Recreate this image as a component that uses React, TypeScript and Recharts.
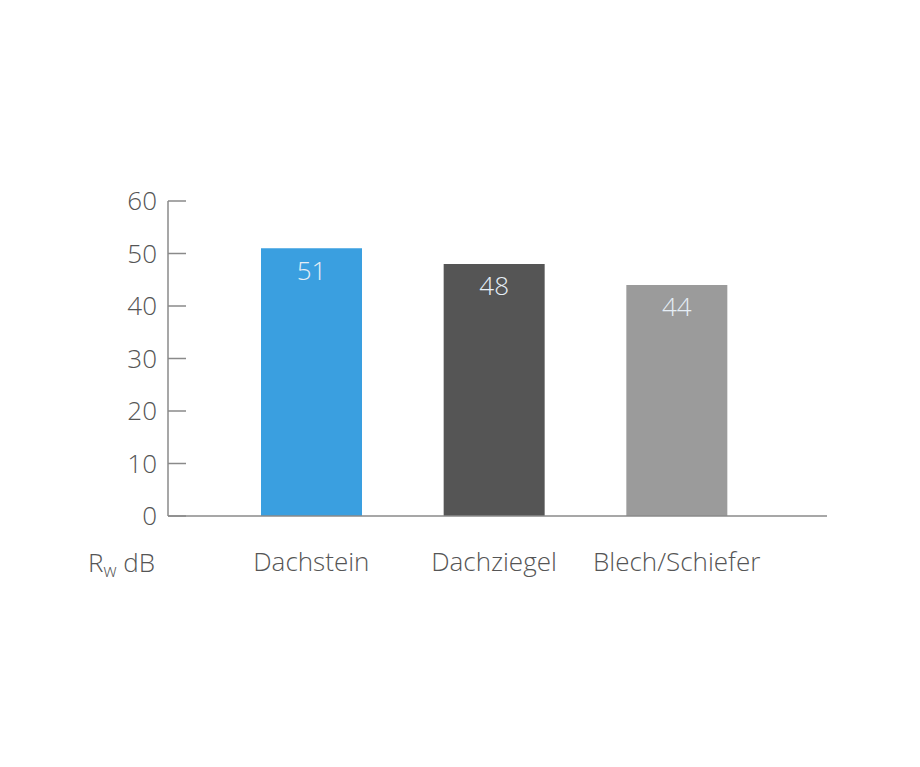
import React from "react";
import { BarChart, Bar, XAxis, YAxis, Cell, LabelList, Label } from "recharts";

const categories = ["Dachstein", "Dachziegel", "Blech/Schiefer"];
const values = [51, 48, 44];
const colors = ["#3a9fe0", "#555555", "#9b9b9b"];
const yTicks = [0, 10, 20, 30, 40, 50, 60];

const FONT = "'Open Sans', Lato, sans-serif";
const TEXT = "#555555";
const AXIS = "#8a8a8a";

const data = categories.map((name, i) => ({ name, value: values[i] }));

// y ticks: the little tick marks point into the plot, so draw them here
const YTick = (props: any) => {
  const { x, y, payload } = props;
  return (
    <g>
      <line x1={x + 11} x2={x + 29} y1={y} y2={y} stroke={AXIS} strokeWidth={1.5} />
      <text
        x={x}
        y={y}
        dy="0.36em"
        textAnchor="end"
        fill={TEXT}
        fontSize={26}
        fontWeight={300}
        fontFamily={FONT}
      >
        {payload.value}
      </text>
    </g>
  );
};

const UnitLabel = (props: any) => {
  const { viewBox } = props;
  return (
    <text
      x={viewBox.x - 80}
      y={viewBox.y + 56}
      fill={TEXT}
      fontSize={26}
      fontWeight={300}
      fontFamily={FONT}
    >
      R
      <tspan fontSize={18} dy={5}>w</tspan>
      <tspan dy={-5}> dB</tspan>
    </text>
  );
};

export default function App() {
  return (
    <div style={{ position: "absolute", left: 0, top: 0, background: "#fff" }}>
      <BarChart
        width={920}
        height={767}
        data={data}
        margin={{ top: 201, right: 93, bottom: 191, left: 0 }}
      >
        <XAxis
          dataKey="name"
          height={60}
          padding={{ left: 52, right: 59 }}
          axisLine={{ stroke: AXIS, strokeWidth: 1.5 }}
          tickLine={false}
          tickSize={0}
          tickMargin={37}
          tick={{ fill: TEXT, fontSize: 26, fontWeight: 300, fontFamily: FONT }}
        >
          <Label content={<UnitLabel />} />
        </XAxis>
        <YAxis
          width={168}
          domain={[0, 60]}
          ticks={yTicks}
          interval={0}
          axisLine={{ stroke: AXIS, strokeWidth: 1.5 }}
          tickLine={false}
          tickSize={0}
          tickMargin={11}
          tick={<YTick />}
        />
        <Bar dataKey="value" barSize={101} isAnimationActive={false}>
          {data.map((entry, i) => (
            <Cell key={`cell-${i}`} fill={colors[i]} />
          ))}
          <LabelList
            dataKey="value"
            position="insideTop"
            offset={13}
            fill="#e6eef6"
            fontSize={26}
            fontWeight={300}
            fontFamily={FONT}
          />
        </Bar>
      </BarChart>
    </div>
  );
}
